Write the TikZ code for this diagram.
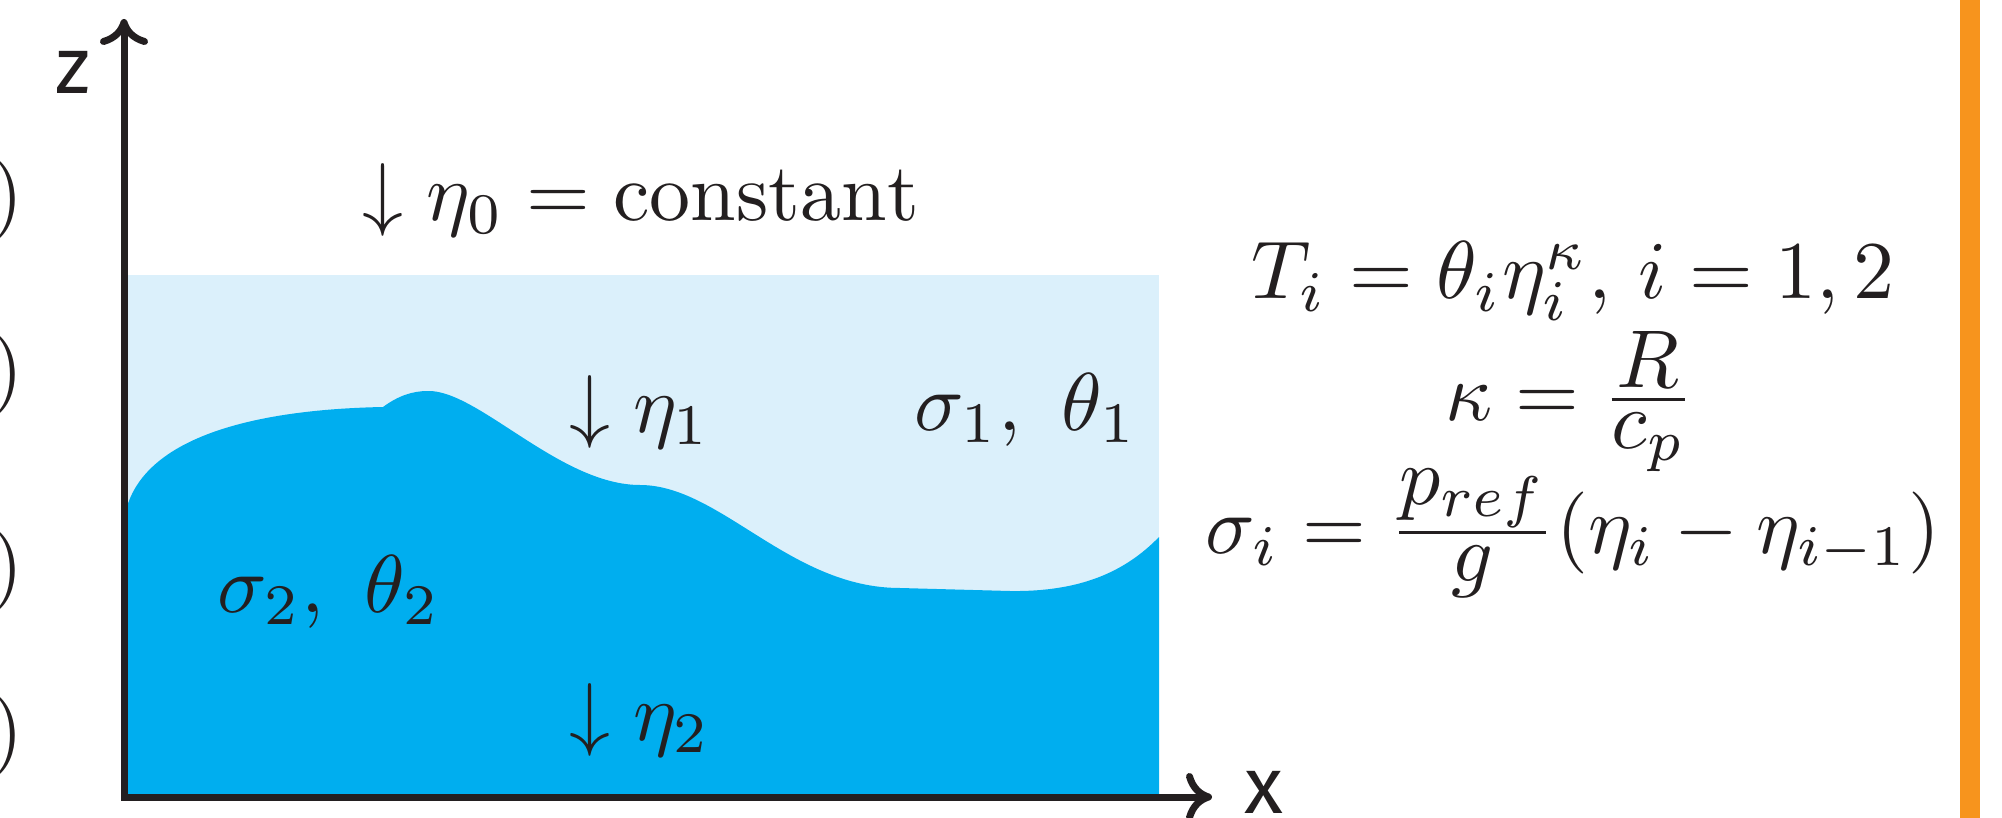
\documentclass[tikz,border=0pt]{standalone}
\usepackage{amsmath}
\usepackage{fontspec}
\newfontfamily\axisfont{Fira Sans}
\usetikzlibrary{arrows.meta}
\definecolor{dblue}{HTML}{00AEEF}
\definecolor{lblue}{HTML}{DBF0FB}
\definecolor{ink}{HTML}{231F20}
\definecolor{orangebar}{HTML}{F7941D}
\begin{document}
\begin{tikzpicture}[x=0.5pt,y=-0.5pt,
  lbl/.style={anchor=base, inner sep=0pt, text=ink, font=\normalsize, scale=4.1},
  axlbl/.style={inner sep=0pt, text=ink, font=\axisfont\fontsize{40}{48}\selectfont},
  axisline/.style={draw=ink, line width=3.5pt, line join=miter,
    {Computer Modern Rightarrow[length=13pt,width=24pt]}-{Computer Modern Rightarrow[length=13pt,width=24pt]}}
]
\useasboundingbox (0,0) rectangle (2002,818);
% cut parentheses at the left border
\begin{scope}
\clip (0,0) rectangle (2002,818);
\node[lbl, anchor=base east] (p1) at (25,221) {)};
\node[lbl, anchor=base east] (p2) at (25,395) {)};
\node[lbl, anchor=base east] (p3) at (25,591) {)};
\node[lbl, anchor=base east] (p4) at (25,756) {)};
\end{scope}
% layers
\fill[lblue] (124,275) rectangle (1159,797);
\fill[dblue] (125,515) .. controls (138,447) and (230,410) .. (383,407)
  .. controls (398,396) and (412,391) .. (428,391)
  .. controls (478,390) and (560,485) .. (640,485)
  .. controls (720,485) and (790,588) .. (900,588)
  -- (1010,591) .. controls (1080,592) and (1125,572) .. (1159,537)
  -- (1159,797) -- (124,797) -- cycle;
% orange bar
\fill[orangebar] (1960,0) rectangle (1980,818);
% axes
\coordinate (ztip) at (124,19);
\coordinate (origin) at (124,797);
\coordinate (xtip) at (1212,797);
\draw[axisline] (ztip) -- (origin) -- (xtip);
\node[axlbl] (zlab) at (73,72) {z};
\node[axlbl] (xlab) at (1264,792) {x};
% labels
\node[lbl] (eta0) at (641,221) {$\downarrow \eta_0 = \mathrm{constant}$};
\node[lbl] (eta1) at (640,432) {$\downarrow \eta_1$};
\node[lbl] (layer1) at (1026,430) {$\sigma_1,\ \theta_1$};
\node[lbl] (layer2) at (329,612) {$\sigma_2,\ \theta_2$};
\node[lbl] (eta2) at (640,740) {$\downarrow \eta_2$};
% equations
\node[lbl] (eqT) at (1573,299) {$T_i = \theta_i\eta_i^\kappa,\, i = 1,2$};
\node[lbl] (eqK) at (1570,420) {$\kappa = \frac{\displaystyle R}{\displaystyle c_p}$};
\node[lbl] (eqS) at (1573,553) {$\sigma_i = \frac{\displaystyle p_{ref}}{\displaystyle g}(\eta_i - \eta_{i-1})$};
\end{tikzpicture}
\end{document}
